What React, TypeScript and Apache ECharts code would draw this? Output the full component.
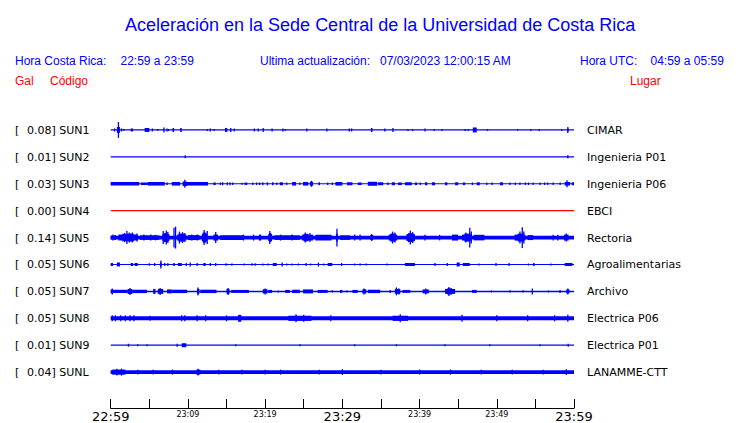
import React, { useEffect, useRef } from "react";
import * as echarts from "echarts";

const TRACES = ["SUN1", "SUN2", "SUN3", "SUN4", "SUN5", "SUN6", "SUN7", "SUN8", "SUN9", "SUNL"];
const PEAKS = ["0.08", "0.01", "0.03", "0.00", "0.14", "0.05", "0.05", "0.05", "0.01", "0.04"];
const PLACES = ["CIMAR", "Ingenieria P01", "Ingenieria P06", "EBCI", "Rectoria", "Agroalimentarias", "Archivo", "Electrica P06", "Electrica P01", "LANAMME-CTT"];
const X_LABELS = ["22:59", "", "23:09", "", "23:19", "", "23:29", "", "23:39", "", "23:49", "", "23:59"];
const BIG_LABELS = ["22:59", "23:29", "23:59"];

// events: [start minute, end minute, half amplitude (px units)]
const EV_SUN1 = [[0.5,0.5,1.5],[0.8,1.2,3],[1.0,1.0,8],[1.4,1.4,1.5],[1.7,1.7,1],[2.6,2.9,1.5],[4.4,5.0,2],[5.4,5.4,1.5],[6.1,6.1,1],[6.9,6.9,2.5],[7.3,7.3,1.5],[7.5,7.5,1],[8.0,8.2,2],[9.0,9.2,2],[12.5,12.5,1],[12.9,12.9,1.5],[13.4,13.4,1],[14.8,15.1,2],[15.5,15.6,2],[16.0,16.0,1.5],[18.6,18.6,1.5],[19.1,19.1,1.5],[19.7,19.8,2],[20.9,20.9,1.5],[22.3,22.3,1.5],[22.6,22.6,1],[25.4,25.4,1.5],[28.0,28.0,1.5],[30.9,30.9,1.5],[31.2,31.2,1.5],[33.7,33.9,2],[35.5,35.5,1.5],[36.5,36.6,2],[38.5,38.5,1],[39.1,39.1,1],[40.7,40.7,1.5],[41.9,41.9,1],[42.9,42.9,1],[45.9,45.9,1],[46.3,46.3,1],[46.9,47.4,2.5],[48.8,48.8,1],[52.7,52.7,0.8],[54.4,54.4,1],[55.5,55.5,1],[58.4,58.4,1],[59.1,59.3,1.5],[59.2,59.2,3]];
const EV_SUN2 = [[9.6,9.7,1.5],[59.1,59.3,1.5]];
const EV_SUN3 = [[0,3.7,1.8],[3.9,4.8,1.3],[4.8,7.0,1.8],[7.2,7.4,1.3],[7.9,9.0,1.8],[9.3,9.9,2.2],[9.6,9.6,4],[9.8,12.6,1.8],[13.3,13.6,1.3],[14.2,14.2,1.3],[14.5,14.5,1.5],[15.1,15.1,1.5],[15.4,15.5,1.5],[15.8,15.8,1.3],[17.0,17.0,1],[17.4,17.4,1.3],[17.6,17.6,1.3],[18.4,18.4,1.3],[18.9,18.9,1.3],[19.3,19.3,1.3],[19.7,19.7,1.5],[20.2,20.4,1.5],[20.9,21.1,1.5],[21.5,21.5,1.3],[21.9,22.3,1.5],[22.8,22.8,1.3],[23.5,24.0,1.8],[24.5,24.5,1.3],[24.9,25.6,1.8],[25.8,26.2,2],[26.0,26.0,3],[26.9,27.1,1.5],[28.1,28.1,1.3],[28.7,28.7,1.3],[29.1,30.0,1.8],[30.6,31.3,1.5],[32.0,32.5,1.3],[33.3,34.5,2],[34.6,35.3,1.5],[35.8,36.0,1.3],[36.4,36.8,1.5],[37.2,37.7,1.3],[38.1,39.0,1.5],[39.4,39.7,1.3],[40.1,40.1,1.3],[40.7,41.0,1.5],[41.6,42.0,1.5],[43.3,43.6,1.5],[44.6,45.0,1.5],[45.6,45.9,1.3],[46.8,46.9,1.3],[47.4,47.8,1.5],[48.7,48.7,1.3],[49.4,49.4,1.3],[50.4,50.8,1.5],[51.7,51.7,1.3],[52.4,52.4,1.3],[53.0,53.0,1.3],[53.7,53.7,1.3],[54.1,54.1,1.3],[54.7,54.7,1.3],[55.6,55.6,1.3],[56.2,56.2,1.3],[56.6,56.6,1.3],[57.3,57.3,1.3],[58.2,58.2,1.3],[58.8,59.5,1.8],[59.1,59.1,3.5],[59.7,60,1.5]];
const EV_SUN4 = [];
const EV_SUN5 = [[0,60,1.8],[0,0.6,2],[0.3,0.3,3],[0.6,0.6,2.5],[1.0,3.5,3],[1.5,3.0,3.8],[2.1,2.1,6.5],[1.8,1.8,4.5],[2.4,2.4,5],[2.8,2.8,5],[2.6,2.6,4],[3.4,3.4,4],[3.8,6.3,2.3],[4.3,4.3,3],[5.2,5.2,3],[5.8,5.8,2.8],[6.7,7.6,3.5],[6.9,7.4,4.5],[6.8,6.8,6.5],[7.2,7.2,7],[7.4,7.4,5.5],[8.2,8.2,10],[8.4,8.4,11],[8.6,9.8,3],[8.8,9.5,4],[8.9,8.9,6],[9.3,9.3,5.5],[9.6,9.6,4.5],[10,11.5,2.5],[10.5,10.5,3],[11.2,11.2,3],[11.8,12.5,3.5],[11.9,12.4,5],[12.1,12.1,7.5],[12.5,12.5,6.5],[13.3,13.9,3],[13.6,13.6,5.5],[14.2,17.2,2.3],[17.2,17.2,3],[18.5,18.5,3],[19.2,19.5,3],[20.4,20.9,3.5],[20.5,20.8,4.5],[20.6,20.6,6.5],[21.2,24.5,2.3],[22,22,3],[23.5,23.5,3],[24.8,26.2,3],[25.0,25.6,3.8],[25.2,25.2,5],[25.8,25.8,4.5],[26.5,28.6,2.8],[29.2,29.4,4],[29.3,29.3,9],[29.7,31,2.3],[31.6,31.6,3],[32.3,32.3,3],[33.6,34.0,2.5],[33.8,33.8,3.5],[36.0,37.1,3],[36.2,36.9,4],[36.5,36.5,6],[36.8,36.8,5],[38.3,39.4,3.5],[38.5,39.2,4.5],[38.8,38.8,7],[39.1,39.1,5.5],[40.7,40.7,2.8],[42.6,42.6,2.8],[44.2,45,3],[45.5,46.8,3],[45.8,46.6,4],[46.0,46.0,5],[46.5,46.5,10],[46.7,46.7,6],[47.0,48.4,2.8],[52.3,53.7,3],[52.7,53.5,4],[53.0,53.0,6],[53.3,53.3,10.5],[53.5,53.5,6],[54.0,54.7,2.5],[57.3,57.3,2.8],[57.9,57.9,2.8],[58.7,59.3,3],[59.0,59.0,4]];
const EV_SUN6 = [[0,0.3,1.5],[0.8,1.2,2],[2.6,2.9,1.5],[3.1,3.5,1.5],[5.0,5.0,1.2],[5.7,5.7,1.5],[6.4,6.6,2],[6.5,6.5,4],[7.0,7.0,1.5],[7.4,7.4,1.5],[8.1,8.3,1.5],[8.7,9.2,1.5],[9.8,9.8,1.5],[10.3,10.3,2],[11.2,11.2,1.5],[12.0,12.3,1.5],[12.9,12.9,1.5],[13.6,13.6,1.5],[14.8,15.1,1],[15.6,15.8,1],[17.3,17.3,1],[18.3,18.3,1.2],[18.7,18.7,1.2],[19.7,19.7,1],[20.4,20.4,1],[21.0,21.5,1.5],[22.2,22.2,2],[22.8,22.8,1],[23.5,23.5,1],[24.3,24.3,1],[25.3,25.3,1.5],[25.9,25.9,1],[26.9,26.9,2],[27.6,27.6,1],[28.1,28.7,1.5],[29.9,29.9,1.5],[31.6,31.6,1],[32.3,32.3,1],[33.1,33.1,1],[35.8,35.8,1],[38.1,39.4,1.5],[42.0,42.0,1.5],[43.6,43.6,1.5],[44.8,45.2,2],[45.6,46.5,1.5],[47.7,47.7,1],[49.9,49.9,1.5],[51.6,51.6,1.5],[54.1,54.1,1],[54.7,54.9,1.5],[57.0,57.0,1],[58.8,59.8,1.5]];
const EV_SUN7 = [[0,0.3,2],[0.2,0.2,3],[0.3,2.2,1.7],[2.2,2.8,2.5],[2.5,2.5,3.5],[2.8,4.7,1.7],[5.5,5.8,2.5],[6.1,6.8,2.5],[6.4,6.4,3.5],[7.3,7.9,2],[7.9,9.9,1.7],[11.2,11.5,2.5],[11.3,11.3,4],[11.6,13.7,1.7],[15.0,15.4,2.5],[15.2,15.2,3.5],[15.6,17.9,1.5],[19.7,20.3,2.2],[20.0,20.0,3],[20.4,20.9,1.5],[21.7,21.7,1],[22.6,23.2,1.5],[23.5,24.5,1.7],[24.9,26.2,2],[26.8,28.1,1.5],[28.7,28.7,1.2],[29.7,30.0,1.5],[30.6,30.6,1.2],[31.3,32.0,1.5],[32.6,33.1,2.2],[32.8,32.8,3],[33.3,34.9,1.7],[36.2,36.2,1.5],[36.8,37.5,2.5],[37.0,37.0,4],[37.3,37.3,3],[37.8,38.8,1.5],[40.4,41.2,2],[40.8,40.8,3],[43.3,44.6,2.5],[43.6,44.2,3.2],[43.8,43.8,4.5],[46.8,47.4,1.5],[49.3,49.3,1],[51.7,51.7,1.2],[53.4,53.4,1.2],[54.6,54.6,3],[56.7,56.7,1],[58.2,58.2,1.5],[59.0,59.4,2],[59.2,59.2,3]];
const EV_SUN8 = [[0,60,2],[0.2,0.2,3],[0.6,0.6,3],[1.3,1.3,3],[1.9,1.9,3],[2.5,2.5,3],[3.0,3.0,3],[5.1,5.1,2.5],[9.2,9.2,3],[9.6,9.6,3],[11.2,11.2,3],[12.3,12.3,3],[15.0,15.0,3],[16.5,16.9,3.5],[23,26,2.6],[24.0,24.0,4],[25.0,25.0,3.5],[28.5,28.5,3],[36.5,38.5,2.6],[37.5,37.5,4],[45.5,45.5,3.5],[50,50,3],[54,54,3],[57.5,57.5,3],[59.2,59.2,3.5]];
const EV_SUN9 = [[2.3,2.3,1.5],[3.5,3.5,1],[4.7,4.7,1],[8.6,8.6,1.5],[9.2,9.8,2],[16.2,16.2,1],[24.5,24.5,1],[31.6,31.6,1],[37.0,37.0,1],[43.3,43.3,1],[49.1,49.1,1],[55.6,55.6,1],[59.2,59.3,1.5]];
const EV_SUNL = [[0,60,2],[0.2,1.9,2.6],[0.8,0.8,3.5],[1.4,1.4,3.5],[3.5,3.5,2.5],[5.5,5.5,2.5],[8,8,2.5],[11.1,11.6,2.6],[11.3,11.3,3.5],[14,14,2.5],[17,17,2.5],[20,20,2.5],[22,22,2.5],[27,27,2.5],[30,30,3],[35,35,2.5],[40,40,2.5],[44,44,2.5],[48,48,2.5],[52,52,2.5],[56,56,2.5],[59,59,3]];
const EVENTS = [EV_SUN1, EV_SUN2, EV_SUN3, EV_SUN4, EV_SUN5, EV_SUN6, EV_SUN7, EV_SUN8, EV_SUN9, EV_SUNL];

const BLUE = "#0000ff";
const RED = "#ff0000";
const TRACE_COLORS = [BLUE, BLUE, BLUE, RED, BLUE, BLUE, BLUE, BLUE, BLUE, BLUE];
const BASE_WIDTH = [1.2, 1.2, 1.2, 1.2, 1.2, 1.2, 1.5, 1.2, 1.2, 1.2];
const PX_PER_TRACE = 27.03;
const LABEL_FONT = "DejaVu Sans";
const HEAD_FONT = "Liberation Sans";

export default function App() {
  const ref = useRef<HTMLDivElement>(null);
  useEffect(() => {
    if (!ref.current) return;
    const chart = echarts.init(ref.current, null, { renderer: "svg" });

    const eventSeries = EVENTS.map((ev, idx) => ({
      type: "custom",
      name: TRACES[idx],
      clip: false,
      data: ev,
      encode: { x: [0, 1], y: 2 },
      renderItem: (params: any, api: any) => {
        const t0 = api.value(0);
        const t1 = api.value(1);
        const a = api.value(2) / PX_PER_TRACE;
        const p0 = api.coord([t0, idx]);
        const p1 = api.coord([t1, idx]);
        const top = api.coord([t0, idx - a]);
        const bot = api.coord([t0, idx + a]);
        const w0 = p1[0] - p0[0];
        const w = Math.max(w0, 1.3);
        return {
          type: "rect",
          shape: { x: p0[0] - (w - w0) / 2, y: top[1], width: w, height: bot[1] - top[1] },
          style: { fill: TRACE_COLORS[idx] },
        };
      },
    }));

    const baseSeries = {
      type: "custom",
      name: "bases",
      clip: false,
      data: TRACES.map((_, i) => [0, 60, i]),
      encode: { x: [0, 1], y: 2 },
      renderItem: (params: any, api: any) => {
        const i = api.value(2);
        const a = api.coord([api.value(0), i]);
        const b = api.coord([api.value(1), i]);
        return {
          type: "group",
          children: [
            {
              type: "line",
              shape: { x1: a[0], y1: a[1], x2: b[0], y2: b[1] },
              style: { stroke: TRACE_COLORS[i], lineWidth: BASE_WIDTH[i] },
            },
            {
              type: "text",
              x: 15,
              y: a[1] + 0.5,
              style: { text: "[", fill: "#000", fontSize: 11, fontFamily: LABEL_FONT, verticalAlign: "middle", align: "left" },
            },
            {
              type: "text",
              x: 27,
              y: a[1] + 0.5,
              style: { text: PEAKS[i] + "] " + TRACES[i], fill: "#000", fontSize: 11, fontFamily: LABEL_FONT, verticalAlign: "middle", align: "left" },
            },
            {
              type: "text",
              x: b[0] + 13,
              y: b[1] + 0.5,
              style: { text: PLACES[i], fill: "#000", fontSize: 11, fontFamily: LABEL_FONT, verticalAlign: "middle", align: "left" },
            },
          ],
        };
      },
    };

    const headText = (text: string, x: number, y: number, color: string) => ({
      type: "text",
      x,
      y,
      style: { text, fill: color, fontSize: 12, fontFamily: HEAD_FONT, verticalAlign: "middle", align: "left" },
    });

    chart.setOption({
      animation: false,
      backgroundColor: "#ffffff",
      title: {
        text: "Aceleración en la Sede Central de la Universidad de Costa Rica",
        left: 120,
        top: 11,
        textStyle: { color: BLUE, fontSize: 18, fontWeight: "normal", fontFamily: HEAD_FONT },
      },
      graphic: [
        headText("Hora Costa Rica:", 15, 61, BLUE),
        headText("22:59 a 23:59", 120.5, 61, BLUE),
        headText("Ultima actualización:", 260, 61, BLUE),
        headText("07/03/2023 12:00:15 AM", 380, 61, BLUE),
        headText("Hora UTC:", 580, 61, BLUE),
        headText("04:59 a 05:59", 650.5, 61, BLUE),
        headText("Gal", 15, 81, RED),
        headText("Código", 50, 81, RED),
        headText("Lugar", 630, 81, RED),
      ],
      grid: { left: 110.7, right: 166, top: 116.5, bottom: 13.7 },
      xAxis: {
        type: "value",
        min: 0,
        max: 60,
        interval: 5,
        splitLine: { show: false },
        axisLine: { show: true, onZero: false, lineStyle: { color: "#000", width: 1 } },
        axisTick: { show: true, inside: true, length: 9, lineStyle: { color: "#000", width: 1 } },
        axisLabel: {
          margin: 2,
          showMinLabel: true,
          showMaxLabel: true,
          formatter: (v: number) => {
            const lab = X_LABELS[Math.round(v / 5)] || "";
            if (!lab) return "";
            return BIG_LABELS.includes(lab) ? "{big|" + lab + "}" : "{small|" + lab + "}";
          },
          rich: {
            big: { fontSize: 13, lineHeight: 13, fontFamily: LABEL_FONT, color: "#000" },
            small: { fontSize: 8, lineHeight: 8, fontFamily: LABEL_FONT, color: "#000" },
          },
        },
      },
      yAxis: {
        type: "value",
        min: -0.5,
        max: 10.333,
        inverse: true,
        show: false,
        splitLine: { show: false },
      },
      series: [baseSeries, ...eventSeries],
    });
    return () => chart.dispose();
  }, []);
  return <div ref={ref} style={{ position: "fixed", left: 0, top: 0, width: 740, height: 423 }} />;
}
